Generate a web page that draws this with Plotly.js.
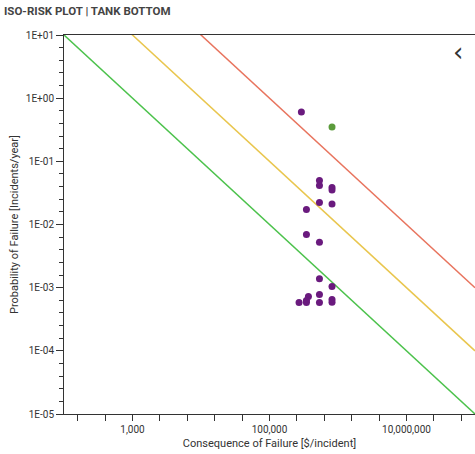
<!DOCTYPE html>
<html>
<head>
<meta charset="utf-8">
<script src="https://cdn.plot.ly/plotly-3.0.1.min.js"></script>
<style>
  html, body { margin: 0; padding: 0; background: #fff; }
  #chart { width: 475px; height: 454px; }
</style>
</head>
<body>
<div id="chart"></div>
<script>
// ---- Data ----
const chartTitle = "ISO-RISK PLOT | TANK BOTTOM";
const xTitle = "Consequence of Failure [$/incident]";
const yTitle = "Probability of Failure [Incidents/year]";

// Iso-risk lines (end points, $ and incidents/year)
const isoX = [1e2, 1e8];
const redIsoY = [1000, 0.001];
const yellowIsoY = [100, 0.0001];
const greenIsoY = [10, 0.00001];

// Assets (purple)
const consequence = [292000, 536000, 536000, 818000, 818000, 536000, 818000, 346000,
                     346000, 536000, 536000, 818000, 536000, 370000, 818000, 346000,
                     818000, 536000, 270000, 346000];
const probability = [0.605, 0.0495, 0.0413, 0.0384, 0.0353, 0.0222, 0.0212, 0.0173,
                     0.00692, 0.00525, 0.00139, 0.00104, 0.000778, 0.000728, 0.000648, 0.000625,
                     0.00059, 0.000581, 0.000581, 0.000581];
// Highlighted asset (green)
const selConsequence = [818000];
const selProbability = [0.35];

// Tick labels
const xTickVals = [1e3, 1e5, 1e7];
const xTickText = ["1,000", "100,000", "10,000,000"];
const yTickVals = [1e1, 1e0, 1e-1, 1e-2, 1e-3, 1e-4, 1e-5];
const yTickText = ["1E+01", "1E+00", "1E-01", "1E-02", "1E-03", "1E-04", "1E-05"];

// ---- Axis minor tick positions ----
const xMinor = [];
for (let e = 2.2; e < 8; e += 0.4) xMinor.push(Math.pow(10, e));
const yMinor = [];
for (let e = -5; e < 1; e += 0.2) yMinor.push(Math.pow(10, e));

const font = "Roboto, 'Open Sans', sans-serif";

const traces = [
  { x: isoX, y: redIsoY, mode: "lines", line: { color: "#e8745e", width: 1.5 }, hoverinfo: "skip" },
  { x: isoX, y: yellowIsoY, mode: "lines", line: { color: "#e9c64e", width: 1.5 }, hoverinfo: "skip" },
  { x: isoX, y: greenIsoY, mode: "lines", line: { color: "#4cc24c", width: 1.5 }, hoverinfo: "skip" },
  { x: consequence, y: probability, mode: "markers", marker: { color: "#6a1a7e", size: 7 } },
  { x: selConsequence, y: selProbability, mode: "markers", marker: { color: "#5b9b3b", size: 7 } }
];

const layout = {
  width: 475, height: 454,
  margin: { l: 64, r: 0, t: 35, b: 40, pad: 0 },
  paper_bgcolor: "#fff", plot_bgcolor: "#fff",
  showlegend: false,
  font: { family: font, color: "#333", size: 10 },
  xaxis: {
    type: "log", range: [2, 8],
    showgrid: false, zeroline: false,
    showline: true, linecolor: "#333", linewidth: 1, mirror: true,
    ticks: "outside", ticklen: 6, tickcolor: "#333",
    tickmode: "array", tickvals: xTickVals, ticktext: xTickText,
    tickfont: { size: 10, color: "#333" },
    minor: { tickmode: "array", tickvals: xMinor, ticks: "outside", ticklen: 6, tickcolor: "#333", showgrid: false },
    title: { text: xTitle, font: { size: 11, color: "#333" }, standoff: 5 },
    automargin: false
  },
  yaxis: {
    type: "log", range: [-5, 1],
    showgrid: false, zeroline: false,
    showline: true, linecolor: "#333", linewidth: 1, mirror: false,
    ticks: "outside", ticklen: 7, tickcolor: "#333",
    tickmode: "array", tickvals: yTickVals, ticktext: yTickText,
    tickfont: { size: 10, color: "#333" },
    minor: { tickmode: "array", tickvals: yMinor, ticks: "outside", ticklen: 4, tickcolor: "#333", showgrid: false },
    title: { text: yTitle, font: { size: 11, color: "#333" }, standoff: 4 },
    automargin: false
  },
  annotations: [
    { text: "<b>" + chartTitle + "</b>", xref: "paper", yref: "paper", x: -62/411, y: 1 + 24/379,
      xanchor: "left", yanchor: "middle", showarrow: false,
      font: { family: font, size: 11.5, color: "#444" } },
    { text: "‹", xref: "paper", yref: "paper", x: (458-64)/411, y: (414-52)/379,
      xanchor: "center", yanchor: "middle", showarrow: false,
      font: { family: "'DejaVu Sans', sans-serif", size: 26, color: "#333" } }
  ]
};

Plotly.newPlot("chart", traces, layout, { displayModeBar: false, staticPlot: true });
</script>
</body>
</html>
